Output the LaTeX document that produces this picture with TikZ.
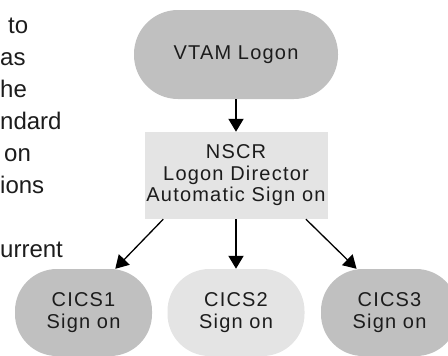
\documentclass[tikz,border=0pt]{standalone}
\usepackage{fontspec}
\setmainfont{Liberation Sans}
\newfontfamily\boxfont[LetterSpace=6]{Liberation Sans}
\usetikzlibrary{arrows.meta,positioning}
\definecolor{shadedark}{HTML}{C0C0C0}
\definecolor{shadelight}{HTML}{E4E4E4}
\definecolor{inkgray}{HTML}{1C1C1C}

\begin{document}
\begin{tikzpicture}[x=1pt,y=-1pt,
  every node/.style={inner sep=0pt, text=inkgray},
  pill/.style={fill=shadedark, rounded corners=44pt, minimum width=204pt,
    minimum height=89pt, align=center, font=\boxfont\fontsize{20}{22}\selectfont},
  director/.style={fill=shadelight, minimum width=183pt, minimum height=87pt,
    align=center, font=\boxfont\fontsize{20}{21.5}\selectfont},
  signon/.style={rounded corners=42pt, minimum width=137pt, minimum height=87pt,
    align=center, font=\boxfont\fontsize{20}{22}\selectfont},
  sidetext/.style={anchor=base west, font=\fontsize{24}{32}\selectfont},
  bigarrow/.style={line width=2pt, -{Triangle[length=13pt,width=15pt]}},
  slimarrow/.style={line width=1.3pt, -{Triangle[length=13pt,width=15pt]}}]
\useasboundingbox (0,0) rectangle (448,356);
\clip (0,0) rectangle (448,356);
% cut-off paragraph on the left
\node[sidetext] (p1) at (8,33) {to};
\node[sidetext] (p2) at (0,65) {as};
\node[sidetext] (p3) at (0,97) {he};
\node[sidetext] (p4) at (0,129) {ndard};
\node[sidetext] (p5) at (4,161) {on};
\node[sidetext] (p6) at (0,193) {ions};
\node[sidetext] (p7) at (0,257) {urrent};
% flow
\node[pill] (vtam) at (236,54.5) {VTAM Logon};
\node[director] (nscr) at (236,175.5) {NSCR\\Logon Director\\Automatic Sign on};
\node[signon, fill=shadedark] (cics1) at (83.5,312.5) {CICS1\\Sign on};
\node[signon, fill=shadelight] (cics2) at (236,312.5) {CICS2\\Sign on};
\node[signon, fill=shadedark] (cics3) at (389.5,312.5) {CICS3\\Sign on};
\draw[bigarrow] (vtam) -- (nscr);
\draw[bigarrow] (nscr) -- (cics2);
\draw[slimarrow] (nscr.211) -- (cics1.54);
\draw[slimarrow] (nscr.-32) -- (cics3.127);
\end{tikzpicture}
\end{document}
